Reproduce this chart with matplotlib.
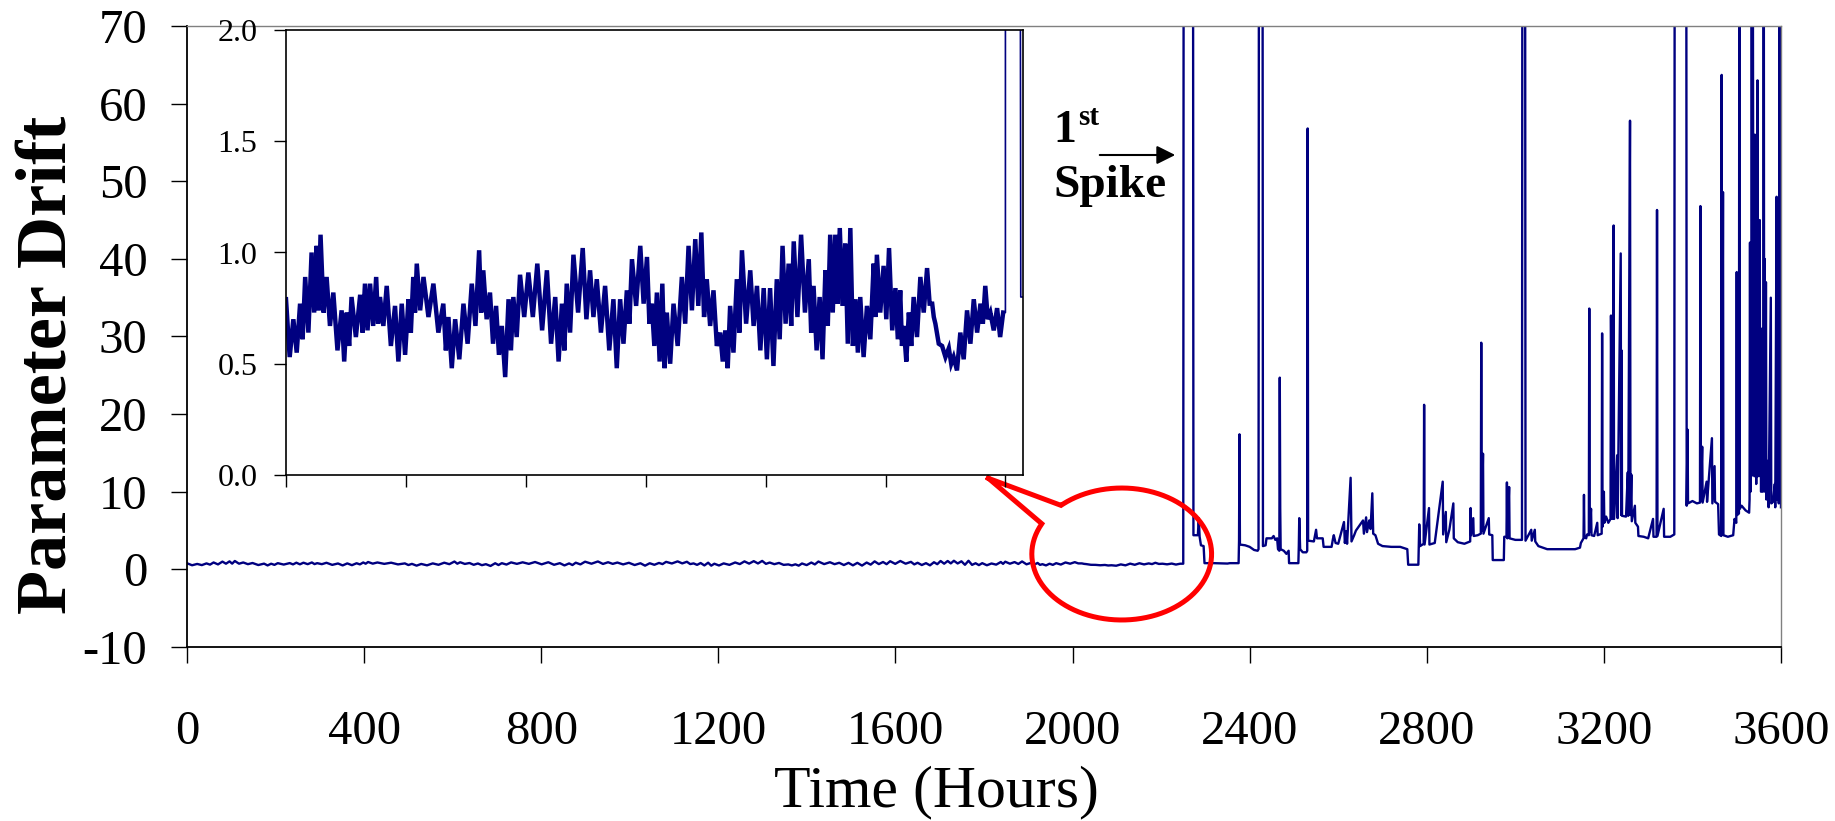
import numpy as np
import matplotlib
matplotlib.use("Agg")
import matplotlib.pyplot as plt

plt.rcParams['font.family'] = ['Liberation Serif', 'DejaVu Serif']
plt.rcParams['axes.unicode_minus'] = False

navy = '#000080'

# 0 - 2250 h : noise band (upper / lower edge of the trace)
early_hours = [0, 23, 44, 60, 80, 96, 108, 127, 148, 174, 190, 205, 232, 247, 263, 282,
               294, 315, 341, 362, 383, 398, 409, 430, 461, 492, 508, 529, 555, 581, 604,
               617, 638, 657, 675, 696, 711, 732, 758, 786, 816, 842, 863, 878, 899, 928,
               951, 972, 998, 1024, 1045, 1066, 1082, 1108, 1129, 1144, 1160, 1177, 1191,
               1212, 1238, 1259, 1280, 1299, 1316, 1337, 1358, 1374, 1389, 1410, 1426,
               1452, 1473, 1494, 1514, 1535, 1553, 1572, 1588, 1611, 1635, 1650, 1669,
               1687, 1702, 1718, 1732, 1749, 1765, 1781, 1796, 1817, 1838, 1848, 1869,
               1886, 1906, 1921, 1932, 1948, 1963, 1984, 2005, 2021, 2031, 2052, 2073,
               2088, 2109, 2130, 2151, 2172, 2187, 2203, 2224, 2243]
early_upper = [0.79, 0.70, 0.77, 0.89, 1.00, 1.03, 1.08, 0.89, 0.82, 0.74, 0.73, 0.80, 0.81,
               0.86, 0.86, 0.89, 0.80, 0.85, 0.76, 0.77, 0.79, 0.89, 0.95, 0.89, 0.86, 0.77,
               0.71, 0.70, 0.77, 0.86, 1.01, 0.92, 0.82, 0.76, 0.67, 0.79, 0.80, 0.90, 0.91,
               0.95, 0.92, 0.80, 0.77, 0.86, 0.99, 1.02, 0.92, 0.88, 0.85, 0.79, 0.79, 0.83,
               0.97, 1.03, 0.98, 0.77, 0.82, 0.86, 0.73, 0.77, 0.89, 1.03, 1.06, 1.09, 0.88,
               0.83, 0.64, 0.65, 0.76, 0.88, 1.01, 0.92, 0.85, 0.84, 0.84, 0.88, 1.03, 0.95,
               1.05, 1.08, 0.97, 0.85, 0.80, 0.92, 1.08, 1.08, 1.11, 1.04, 1.11, 0.79, 0.80,
               0.76, 0.95, 0.99, 0.94, 1.02, 0.84, 0.83, 0.67, 0.73, 0.80, 0.89, 0.93, 0.77,
               0.68, 0.58, 0.57, 0.53, 0.64, 0.74, 0.79, 0.77, 0.85, 0.73, 0.75, 0.73]
early_lower = [0.53, 0.55, 0.61, 0.64, 0.73, 0.74, 0.73, 0.67, 0.56, 0.51, 0.58, 0.62, 0.64,
               0.65, 0.67, 0.68, 0.67, 0.58, 0.51, 0.54, 0.64, 0.73, 0.74, 0.71, 0.64, 0.56,
               0.48, 0.52, 0.59, 0.67, 0.73, 0.70, 0.59, 0.54, 0.44, 0.56, 0.62, 0.71, 0.71,
               0.65, 0.59, 0.51, 0.56, 0.64, 0.73, 0.70, 0.71, 0.64, 0.56, 0.48, 0.59, 0.68,
               0.76, 0.77, 0.68, 0.58, 0.51, 0.48, 0.50, 0.58, 0.68, 0.74, 0.76, 0.71, 0.67,
               0.58, 0.51, 0.48, 0.55, 0.64, 0.68, 0.67, 0.56, 0.52, 0.49, 0.61, 0.68, 0.67,
               0.71, 0.73, 0.64, 0.56, 0.52, 0.67, 0.73, 0.77, 0.76, 0.59, 0.58, 0.55, 0.53,
               0.61, 0.71, 0.73, 0.70, 0.65, 0.61, 0.58, 0.51, 0.58, 0.62, 0.73, 0.77, 0.71,
               0.59, 0.53, 0.50, 0.47, 0.52, 0.59, 0.64, 0.68, 0.70, 0.65, 0.62, 0.67]

# 2250 - 3600 h : drift after the first spike (95 = beyond the top of the chart)
late_hours = [2250, 2251, 2272, 2273, 2283, 2285, 2287, 2290, 2296, 2298, 2320, 2350, 2355,
              2375, 2376, 2377, 2378, 2390, 2400, 2410, 2418, 2420, 2421, 2429, 2430, 2436,
              2438, 2450, 2454, 2458, 2462, 2464, 2467, 2468, 2469, 2470, 2477, 2483, 2488,
              2489, 2510, 2511, 2512, 2514, 2520, 2528, 2530, 2531, 2532, 2545, 2550, 2552,
              2565, 2567, 2585, 2588, 2590, 2594, 2600, 2613, 2615, 2618, 2620, 2628, 2630,
              2636, 2640, 2656, 2658, 2663, 2665, 2670, 2673, 2677, 2679, 2684, 2690, 2700,
              2720, 2740, 2756, 2758, 2781, 2783, 2785, 2793, 2794, 2795, 2805, 2806, 2818,
              2836, 2837, 2843, 2844, 2851, 2860, 2861, 2870, 2885, 2898, 2899, 2900, 2905,
              2906, 2915, 2922, 2923, 2924, 2927, 2928, 2940, 2941, 2948, 2949, 2974, 2975,
              2980, 2981, 2982, 2986, 2987, 3000, 3015, 3016, 3022, 3023, 3036, 3037, 3044,
              3045, 3052, 3062, 3072, 3100, 3135, 3146, 3148, 3150, 3154, 3155, 3156, 3160,
              3162, 3166, 3167, 3168, 3171, 3172, 3178, 3185, 3186, 3195, 3196, 3197, 3200,
              3201, 3205, 3210, 3215, 3216, 3218, 3219, 3222, 3223, 3230, 3231, 3238, 3239,
              3240, 3241, 3250, 3254, 3255, 3259, 3260, 3262, 3263, 3270, 3271, 3277, 3278,
              3290, 3300, 3311, 3312, 3319, 3320, 3321, 3335, 3336, 3350, 3356, 3359, 3360,
              3386, 3387, 3389, 3390, 3400, 3410, 3417, 3418, 3419, 3422, 3423, 3432, 3433,
              3444, 3445, 3450, 3451, 3458, 3460, 3465, 3466, 3467, 3469, 3470, 3480, 3492,
              3495, 3499, 3500, 3501, 3505, 3506, 3507, 3511, 3520, 3528, 3529, 3530, 3531,
              3532, 3533, 3534, 3535, 3536, 3537, 3538, 3539, 3540, 3541, 3542, 3543, 3544,
              3545, 3546, 3547, 3548, 3549, 3550, 3551, 3552, 3553, 3554, 3555, 3556, 3557,
              3558, 3559, 3560, 3561, 3562, 3563, 3564, 3565, 3566, 3567, 3568, 3569, 3571,
              3572, 3577, 3578, 3582, 3586, 3587, 3590, 3591, 3594, 3595, 3597, 3598, 3599,
              3600]
late_values = [0.73, 95, 95, 4.4, 4.4, 6.6, 4.2, 3.1, 3.0, 0.8, 0.8, 0.75, 0.8,
               0.8, 3.7, 17.4, 3.2, 3.1, 2.9, 2.5, 2.4, 2.6, 95, 95, 3.0, 3.1,
               4.0, 4.0, 4.3, 3.8, 4.0, 2.6, 2.4, 24.7, 7.9, 2.6, 2.4, 2.0, 2.4,
               0.8, 0.8, 3.0, 6.6, 2.6, 2.2, 2.2, 2.4, 56.8, 3.7, 3.6, 5.1, 4.0,
               4.0, 2.9, 2.9, 3.9, 4.4, 3.4, 3.3, 6.1, 3.4, 4.9, 3.3, 11.8, 3.6,
               4.4, 5.0, 6.3, 4.6, 6.7, 4.8, 6.3, 5.2, 9.8, 4.6, 4.4, 3.3, 3.0,
               2.9, 2.9, 2.6, 0.6, 0.6, 5.8, 3.0, 3.3, 21.2, 3.2, 7.9, 3.2, 3.4,
               11.3, 4.5, 7.4, 3.5, 5.1, 8.5, 4.0, 3.5, 3.3, 3.6, 7.9, 4.4, 6.6,
               4.3, 4.4, 4.6, 29.2, 5.0, 14.9, 4.6, 6.6, 4.5, 4.4, 1.2, 1.2, 4.2,
               4.2, 11.2, 4.0, 10.6, 4.0, 3.8, 3.8, 95, 95, 3.7, 5.1, 3.7, 5.1,
               3.6, 3.0, 2.8, 2.6, 2.6, 2.6, 2.8, 3.4, 3.6, 4.0, 9.6, 4.2, 4.0,
               4.5, 4.4, 33.6, 4.8, 7.8, 4.4, 4.3, 6.0, 4.4, 4.6, 30.4, 5.5, 10.0,
               6.0, 6.8, 6.0, 6.5, 32.7, 14.7, 6.5, 44.3, 6.5, 14.7, 6.6, 40.7, 7.0,
               28.2, 6.9, 6.8, 12.5, 6.9, 57.8, 7.0, 12.2, 6.2, 8.2, 6.0, 5.5, 4.3,
               4.2, 4.0, 6.5, 4.2, 4.2, 46.3, 4.3, 7.8, 4.2, 4.2, 4.4, 4.5, 95,
               95, 8.2, 18.0, 8.5, 8.8, 8.5, 8.6, 46.8, 8.8, 15.8, 8.6, 11.3, 8.7,
               16.9, 8.5, 13.3, 8.7, 8.4, 4.5, 4.3, 63.7, 4.5, 48.6, 4.4, 4.2, 4.4,
               6.5, 6.0, 38.3, 7.0, 7.2, 95, 7.8, 8.2, 7.6, 7.3, 9.0, 42.1, 10.0,
               30.0, 12.0, 95, 20.0, 95, 57.0, 14.0, 40.0, 12.0, 56.0, 15.0, 43.0, 11.0,
               35.0, 13.0, 63.0, 12.0, 29.0, 14.0, 22.0, 45.0, 12.0, 25.0, 10.0, 31.0, 12.0,
               26.0, 10.0, 18.0, 95, 11.0, 40.0, 10.0, 18.0, 37.0, 9.0, 13.0, 11.0, 14.0,
               8.0, 35.0, 8.5, 8.7, 11.0, 8.0, 48.0, 9.0, 19.0, 8.5, 95, 9.0, 35.0,
               8.0]

x_ticks = [0, 400, 800, 1200, 1600, 2000, 2400, 2800, 3200, 3600]
y_ticks = [-10, 0, 10, 20, 30, 40, 50, 60, 70]
inset_y_ticks = [0.0, 0.5, 1.0, 1.5, 2.0]

# zig-zag between the upper and lower edge of the noise band
zz_x, zz_y = [], []
for i in range(len(early_hours)):
    zz_x.append(early_hours[i])
    zz_y.append(early_upper[i])
    if i + 1 < len(early_hours):
        zz_x.append((early_hours[i] + early_hours[i + 1]) / 2)
        zz_y.append(early_lower[i])
all_x = zz_x + late_hours
all_y = zz_y + late_values

fig = plt.figure(figsize=(18.35, 8.21), dpi=100)
ax = fig.add_axes([187 / 1835, 1 - 647 / 821, 1594 / 1835, 621 / 821])
ax.plot(all_x, all_y, color=navy, lw=1.7, zorder=2)
ax.set_xlim(0, 3600)
ax.set_ylim(-10, 70)
ax.set_xticks(x_ticks)
ax.set_yticks(y_ticks)
ax.tick_params(axis='both', direction='out', length=11.5, width=1, labelsize=35)
ax.tick_params(axis='x', pad=34)
ax.tick_params(axis='y', pad=17)
for s in ['top', 'right']:
    ax.spines[s].set_color('#808080')
    ax.spines[s].set_linewidth(1)
for s in ['left', 'bottom']:
    ax.spines[s].set_linewidth(1.3)
ax.set_xlabel('Time (Hours)', fontsize=43)
ax.xaxis.set_label_coords(0.47, -0.19)
ax.set_ylabel('Parameter Drift', fontsize=52, fontweight='bold')
ax.yaxis.set_label_coords(-0.066, 0.454)

# red speech-bubble around the quiet region
t = np.deg2rad(np.linspace(152.7, 492.5, 200))
bx = [1810] + list(2111 + 203 * np.cos(t)) + [1810]
by = [11.73] + list(1.98 + 8.5 * np.sin(t)) + [11.73]
ax.plot(bx, by, color='#ff0000', lw=3.6, zorder=5, clip_on=False, solid_joinstyle='miter')

# 1st spike label
fig.text(1053 / 1835, 1 - 142 / 821, '1', fontsize=33, fontweight='bold')
fig.text(1078 / 1835, 1 - 125 / 821, 'st', fontsize=21, fontweight='bold')
fig.text(1053 / 1835, 1 - 197 / 821, 'Spike', fontsize=34, fontweight='bold')
ax.annotate('', xy=(1178 / 1835, 1 - 155 / 821), xytext=(1097 / 1835, 1 - 155 / 821),
            xycoords='figure fraction', textcoords='figure fraction',
            arrowprops=dict(arrowstyle='-|>', color='black', lw=1.5, mutation_scale=28))

# inset: noisy part drawn heavy, the spike edges thin
axi = fig.add_axes([286 / 1835, 1 - 475 / 821, 737 / 1835, 445 / 821])
axi.plot(zz_x, zz_y, color=navy, lw=3.2, solid_joinstyle='miter')
axi.plot(zz_x[-1:] + late_hours, zz_y[-1:] + late_values, color=navy, lw=1.2)
axi.set_xlim(0, 2305)
axi.set_ylim(0, 2.0)
axi.set_xticks([0, 375, 750, 1125, 1500, 1875, 2250])
axi.set_xticklabels([])
axi.set_yticks(inset_y_ticks)
axi.set_yticklabels(['%.1f' % v for v in inset_y_ticks])
axi.tick_params(axis='both', direction='out', length=8.5, width=1, labelsize=23)
axi.tick_params(axis='y', pad=12)
for s in axi.spines.values():
    s.set_linewidth(1.2)

fig.savefig('out.png', dpi=100)
